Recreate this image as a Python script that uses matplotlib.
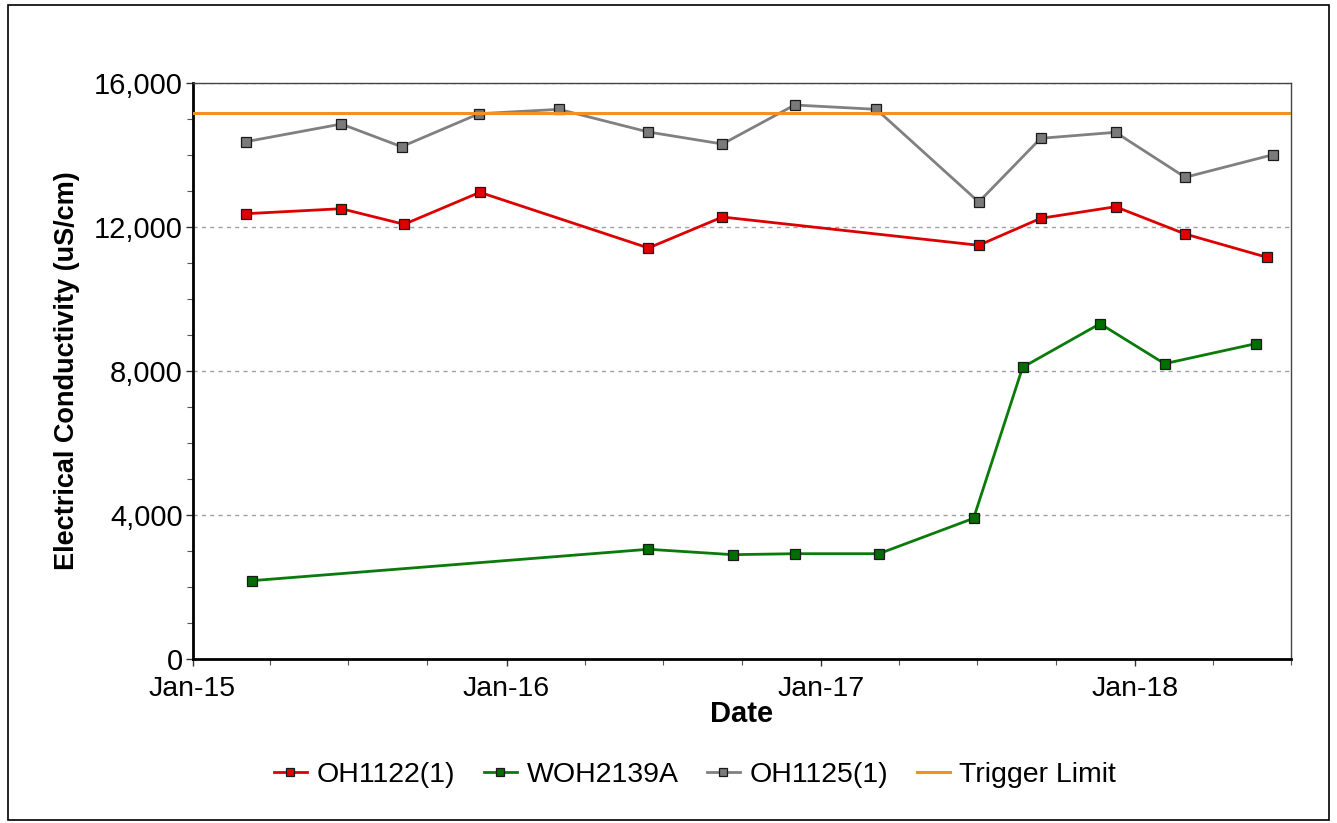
import matplotlib
matplotlib.use("Agg")
import matplotlib.pyplot as plt
import matplotlib.dates as mdates
from matplotlib.ticker import MultipleLocator, FuncFormatter
from matplotlib.patches import Rectangle
import pandas as pd

plt.rcParams['font.family'] = ['Liberation Sans', 'DejaVu Sans']

# ---- data ----
oh1122_dates = ["2015-03-04", "2015-06-23", "2015-09-04", "2015-12-01", "2016-06-14",
                "2016-09-08", "2017-07-03", "2017-09-13", "2017-12-09", "2018-02-28",
                "2018-06-03"]
oh1122_vals = [12363, 12502, 12069, 12957, 11411, 12271, 11486, 12235, 12557, 11799, 11153]

woh2139a_dates = ["2015-03-11", "2016-06-14", "2016-09-20", "2016-12-01", "2017-03-09",
                  "2017-06-27", "2017-08-23", "2017-11-21", "2018-02-04", "2018-05-21"]
woh2139a_vals = [2174, 3046, 2896, 2923, 2923, 3906, 8099, 9309, 8199, 8754]

oh1125_dates = ["2015-03-04", "2015-06-23", "2015-09-01", "2015-11-30", "2016-03-02",
                "2016-06-14", "2016-09-08", "2016-12-01", "2017-03-06", "2017-07-03",
                "2017-09-13", "2017-12-09", "2018-02-28", "2018-06-10"]
oh1125_vals = [14362, 14853, 14223, 15139, 15261, 14631, 14298, 15381, 15261, 12688,
               14456, 14623, 13374, 14001]

trigger_limit = 15170
series_names = ["OH1122(1)", "WOH2139A", "OH1125(1)", "Trigger Limit"]
x_start, x_end = "2015-01-01", "2018-07-01"

# ---- figure ----
fig = plt.figure(figsize=(13.37, 8.23), dpi=100)
fig.patches.append(Rectangle((0.006, 0.004), 0.988, 0.99, transform=fig.transFigure,
                             fill=False, edgecolor='black', linewidth=1.2))
ax = fig.add_axes([0.1440, 0.1993, 0.8216, 0.7002])

mk = dict(marker='s', markersize=6.8, markeredgecolor='#1a1a1a', markeredgewidth=0.9,
          linewidth=2.0)
l1, = ax.plot(pd.to_datetime(oh1122_dates), oh1122_vals, color='#DD0000',
              markerfacecolor='#E00000', label=series_names[0], zorder=4, **mk)
l2, = ax.plot(pd.to_datetime(woh2139a_dates), woh2139a_vals, color='#0A7A0A',
              markerfacecolor='#006E00', label=series_names[1], zorder=4, **mk)
l3, = ax.plot(pd.to_datetime(oh1125_dates), oh1125_vals, color='#808080',
              markerfacecolor='#7A7A7A', label=series_names[2], zorder=3, **mk)
l4 = ax.axhline(trigger_limit, color='#F39020', linewidth=2.2, label=series_names[3], zorder=3)

ax.set_xlim(pd.Timestamp(x_start), pd.Timestamp(x_end))
ax.set_ylim(0, 16000)

ax.yaxis.set_major_locator(MultipleLocator(4000))
ax.yaxis.set_minor_locator(MultipleLocator(1000))
ax.yaxis.set_major_formatter(FuncFormatter(lambda v, p: f"{int(v):,}"))
ax.xaxis.set_major_locator(mdates.YearLocator())
ax.xaxis.set_minor_locator(mdates.MonthLocator(bymonth=[4, 7, 10]))
ax.xaxis.set_major_formatter(mdates.DateFormatter("%b-%y"))

ax.grid(axis='y', which='major', linestyle=(0, (3, 3)), color='#A0A0A0', linewidth=1.0)
ax.set_axisbelow(True)

ax.tick_params(axis='both', which='major', length=5, width=1.0, color='#333333')
ax.tick_params(axis='y', which='major', pad=2, labelsize=21)
ax.tick_params(axis='x', which='major', pad=7, labelsize=20.5)
ax.tick_params(axis='both', which='minor', length=4, width=0.8, color='#555555')

for side in ['left', 'bottom']:
    ax.spines[side].set_linewidth(2.0)
    ax.spines[side].set_color('black')
for side in ['top', 'right']:
    ax.spines[side].set_linewidth(1.0)
    ax.spines[side].set_color('#444444')

ax.set_xlabel("Date", fontsize=21, fontweight='bold', labelpad=-1)
ax.set_ylabel("Electrical Conductivity (uS/cm)", fontsize=19.5, fontweight='bold', labelpad=10)

leg = fig.legend(handles=[l1, l2, l3, l4], labels=series_names, loc='center',
                 bbox_to_anchor=(0.52, 0.058), ncol=4, frameon=False, fontsize=20.5,
                 handlelength=1.15, handletextpad=0.35, columnspacing=1.0, markerscale=0.75)

fig.savefig("out.png", dpi=100, facecolor='white')
